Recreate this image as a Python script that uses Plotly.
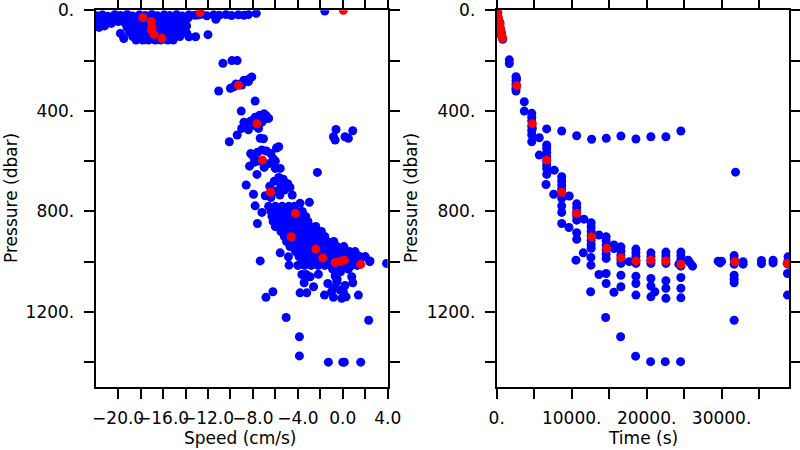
import plotly.graph_objects as go
from plotly.subplots import make_subplots

# ---------------- Left panel: Speed vs Pressure ----------------
speed_blue = [
    # top strip
    -21.9, -21.4, -20.9, -20.3, -19.8, -19.2, -18.7, -18.1, -17.6, -17.0, -16.5, -15.9, -15.4,
    -14.8, -14.3, -13.7, -13.2, -12.6, -12.1, -11.5, -11.0, -10.4, -9.9, -9.3, -8.8, -8.4,
    -7.7, -1.6, -12.9, -11.3, -12.0, -13.1, -13.7, -19.5,
    # left part of blob
    -21.8, -21.3, -21.8, -21.2, -20.7, -20.2, -20.6, -21.7, -20.0, -19.6, -19.8,
    # blob core
    -19.3, -18.8, -18.3, -17.7, -17.2, -16.6, -16.1, -15.6, -15.0, -14.5, -14.0, -13.8,
    -19.4, -18.9, -18.4, -17.8, -17.3, -16.8, -16.2, -15.7, -15.2, -14.6, -14.1,
    -19.2, -18.6, -18.1, -17.5, -17.0, -16.5, -15.9, -15.4, -14.9, -14.3, -13.9,
    -19.0, -18.5, -17.9, -17.4, -16.9, -16.3, -15.8, -15.3, -14.7, -14.2, -13.9,
    -18.7, -18.2, -17.6, -17.1, -16.6, -16.0, -15.5, -15.0, -14.5,
    -18.4, -17.8, -17.3, -16.7, -16.2, -15.6, -15.1,
    # 200-650 dbar
    -10.67, -9.87, -9.4,
    -10.0, -9.7, -9.3, -8.9, -8.6, -8.3, -8.1, -9.5, -8.8, -9.0, -8.4,
    -11.05, -7.8, -9.04,
    -9.0, -8.6, -8.2, -7.8, -7.4, -7.0, -6.6, -7.2, -7.8, -8.4, -7.0, -8.8, -6.8, -7.5,
    -9.4, -10.1, -7.35, -7.06, -5.7,
    -8.3, -8.0, -7.6, -7.2, -6.8, -6.4, -5.9, -6.2, -6.6, -7.0, -7.5, -7.9, -8.2, -6.0,
    -7.64, -6.0, -5.57, -2.26, -8.6, -7.95, -7.8, -7.2, -7.6,
    -6.9, -6.5, -6.1, -5.7, -5.3, -4.9, -5.2, -5.6, -6.0, -4.7, -6.4, -4.5, -5.5,
    -3.8, -2.97,
    -0.6, -0.83, -0.68, 0.2, 0.89, 0.5,
    # dense band 780-1015 dbar
    -6.6, -6.0, -5.4, -4.8, -4.3,
    -6.4, -5.9, -5.3, -4.7, -4.1, -3.6,
    -6.3, -5.7, -5.1, -4.5, -3.9, -3.3,
    -6.2, -5.6, -5.0, -4.4, -3.8, -3.1,
    -6.0, -5.4, -4.8, -4.2, -3.6, -2.9, -2.4,
    -5.5, -4.9, -4.3, -3.7, -3.1, -2.5, -1.9,
    -5.2, -4.6, -4.0, -3.4, -2.8, -2.2, -1.6,
    -5.0, -4.4, -3.8, -3.2, -2.6, -2.0, -1.4, -0.8,
    -4.7, -4.1, -3.5, -2.9, -2.3, -1.7, -1.1, -0.5, 0.1,
    -4.2, -3.6, -3.0, -2.4, -1.8, -1.2, -0.6, 0.0, 0.6, 1.1,
    -3.9, -3.3, -2.7, -2.1, -1.5, -0.9, -0.3, 0.3, 0.9, 1.5, 2.0,
    -3.6, -3.0, -2.4, -1.8, -1.2, -0.6, 0.0, 0.6, 1.2, 2.4,
    -4.0, -3.4, -2.8, -2.2, -1.6, -1.0, -0.4, 0.2, 0.8, 1.3,
    -5.57, -4.84, -7.35, -4.78, 2.42, 1.69, 3.9,
    # below the band
    -3.64, -3.26, -2.9, -2.17, -3.44, -2.6, -3.8, -3.2, -1.63, -1.33, -0.68, -0.53,
    -0.83, -0.24, 0.05, -0.83, -0.09, 0.8, 0.89, 1.39, -6.22, -6.84, -5.04, 2.31,
    -3.86, -3.86, -1.28, 0.0, 0.14, 1.6,
    -0.9, -0.2, 0.5, -0.5, 0.2, -1.0, 0.3,
]
pres_blue = [
    22, 18, 24, 17, 21, 16, 23, 18, 21, 16, 22, 18, 21,
    17, 23, 18, 20, 16, 22, 18, 20, 17, 21, 18, 20, 17,
    12, 3, 19, 36, 97, 105, 105, 112,
    35, 45, 55, 62, 40, 35, 52, 68, 45, 30, 92,
    32, 32, 32, 32, 32, 32, 32, 32, 32, 32, 32, 32,
    50, 50, 50, 50, 50, 50, 50, 50, 50, 50, 50,
    68, 68, 68, 68, 68, 68, 68, 68, 68, 68, 62,
    86, 86, 86, 86, 86, 86, 86, 86, 86, 86, 90,
    104, 104, 104, 104, 104, 104, 104, 104, 104,
    118, 118, 118, 118, 118, 118, 118,
    211, 200, 200,
    310, 304, 296, 288, 281, 272, 265, 293, 278, 297, 284,
    321, 361, 401,
    470, 455, 440, 425, 418, 412, 430, 445, 460, 475, 435, 445, 420, 470,
    496, 523, 509, 511, 543,
    620, 580, 565, 556, 560, 570, 548, 590, 610, 625, 600, 605, 570, 600,
    653, 629, 629, 645, 695, 732, 778, 804, 848,
    738, 700, 680, 665, 672, 690, 715, 735, 720, 705, 745, 735, 700,
    768, 764,
    474, 503, 516, 503, 479, 509,
    780, 780, 780, 780, 780,
    800, 800, 800, 800, 800, 800,
    820, 820, 820, 820, 820, 820,
    840, 840, 840, 840, 840, 840,
    860, 860, 860, 860, 860, 860, 860,
    880, 880, 880, 880, 880, 880, 880,
    900, 900, 900, 900, 900, 900, 900,
    920, 920, 920, 920, 920, 920, 920, 920,
    940, 940, 940, 940, 940, 940, 940, 940, 940,
    960, 960, 960, 960, 960, 960, 960, 960, 960, 960,
    980, 980, 980, 980, 980, 980, 980, 980, 980, 980, 980,
    1000, 1000, 1000, 1000, 1000, 1000, 1000, 1000, 1000, 1000,
    1015, 1015, 1015, 1015, 1015, 1015, 1015, 1015, 1015, 1015,
    965, 981, 997, 1014, 997, 983, 1007,
    1051, 1051, 1060, 1050, 1084, 1100, 1124, 1124, 1133, 1087, 1057, 1080,
    1106, 1113, 1120, 1142, 1146, 1060, 1084, 1133, 1120, 1142, 1222, 1233,
    1299, 1375, 1400, 1400, 1400, 1400,
    1030, 1040, 1030, 1070, 1095, 1120, 1140,
]
speed_red = [-17.8, -17.04, -16.98, -17.04, -16.8, -16.1, -12.7, 0.05, -9.28, -7.64, -7.15,
             -6.44, -4.21, -4.6, -2.4, -1.78, -0.68, -0.24, 0.14, 1.6]
pres_red = [29, 45, 65, 78, 96, 111, 8, 0, 298, 451, 596,
            724, 808, 901, 950, 985, 1003, 998, 994, 1011]

# ---------------- Right panel: Time vs Pressure ----------------
time_blue = [
    0, 100, 200, 300, 400, 500, 600, 700, 800, 150, 450, 650,
    1680, 1680,
    2570, 2570, 2570, 2570, 2570, 2650,
    3680, 3680,
    4670, 4670, 4670, 4670, 4670, 4670, 4670, 4750,
    5680, 5680,
    6670, 8670, 10670, 12660, 14620, 16570, 18570, 20570, 22570, 24570,
    31860,
    6670, 6670, 6670, 6670, 6670, 6670, 6670, 6670, 6580,
    7680, 7600,
    8670, 8670, 8670, 8670, 8670, 8670, 8670, 8670, 8670,
    9680, 9640,
    10670, 10670, 10670, 10670, 10670, 10670, 10670,
    11640,
    12600, 12600, 12600, 12600, 12600, 12600, 12600, 12570, 12570, 12530,
    11550, 10570,
    13640, 13640,
    14600, 14600, 14600, 14600, 14600, 14600, 14600, 14600, 14530,
    15640, 15640, 15640,
    16570, 16570, 16570, 16570, 16570, 16570, 16570, 16530,
    17680,
    18570, 18570, 18570, 18570, 18570, 18570, 18570, 18570, 18530,
    20570, 20570, 20570, 20570, 20570, 20570, 21100, 20570, 20530,
    22570, 22570, 22570, 22570, 22570, 22570, 22570, 22480,
    24570, 24570, 24570, 24570, 24570, 24300, 24570, 24570, 24570, 24530,
    25540, 26130, 25800,
    29540, 30000, 29800,
    31680, 31680, 31680, 31680, 31680, 31680, 31680,
    32870, 32870, 35320, 35320, 36870, 36870, 38870, 38870, 38870, 38790, 38790,
]
pres_t_blue = [
    0, 15, 30, 45, 60, 75, 90, 105, 115, 10, 50, 100,
    197, 212,
    264, 280, 295, 310, 321, 272,
    364, 401,
    410, 425, 440, 460, 478, 495, 523, 470,
    507, 576,
    472, 480, 499, 513, 509, 500, 512, 503, 503, 480,
    644,
    536, 550, 566, 582, 600, 615, 629, 653, 693,
    636, 732,
    662, 678, 695, 712, 730, 748, 778, 804, 848,
    739, 864,
    770, 785, 800, 818, 835, 885, 911,
    831,
    845, 862, 880, 898, 915, 932, 947, 983, 1014, 1120,
    965, 994,
    894, 1051,
    901, 918, 935, 952, 970, 987, 1047, 1087, 1222,
    934, 948, 1122,
    941, 958, 975, 992, 1007, 1054, 1100, 1299,
    1000,
    950, 965, 980, 995, 1007, 1058, 1087, 1133, 1376,
    965, 980, 995, 1007, 1067, 1097, 1120, 1140, 1398,
    962, 977, 992, 1007, 1076, 1106, 1146, 1398,
    962, 977, 992, 1007, 1018, 1010, 1063, 1106, 1144, 1398,
    994, 1018, 1005,
    998, 998, 1005,
    976, 990, 1010, 1054, 1070, 1084, 1233,
    1000, 1010, 995, 1008, 994, 1005, 981, 995, 1010, 1047, 1133,
]
time_red = [0, 60, 130, 190, 250, 320, 380, 440, 500, 570, 630, 690, 750,
            2670, 4750, 6670, 8670, 10670, 12660, 14660, 16570, 18570, 20570,
            22570, 24570, 31770, 38740]
pres_t_red = [2, 10, 19, 28, 37, 46, 55, 65, 74, 83, 92, 102, 111,
              300, 451, 596, 724, 808, 901, 947, 985, 997, 994,
              997, 1011, 1000, 1007]

# ---------------- tick definitions ----------------
p_tickvals = [0, 200, 400, 600, 800, 1000, 1200, 1400]
p_ticktext = ["0.", "", "400.", "", "800.", "", "1200.", ""]
s_tickvals = [-20, -18, -16, -14, -12, -10, -8, -6, -4, -2, 0, 2, 4]
s_ticktext = ["\u221220.0", "", "\u221216.0", "", "\u221212.0", "", "\u22128.0", "",
              "\u22124.0", "", "0.0", "", "4.0"]
t_tickvals = [0, 5000, 10000, 15000, 20000, 25000, 30000, 35000]
t_ticktext = ["0.", "", "10000.", "", "20000.", "", "30000.", ""]

BLUE = "#0000ff"
RED = "#ff0000"
MS = 9
FONT = "DejaVu Sans"

fig = make_subplots(rows=1, cols=2)
fig.add_trace(go.Scatter(x=speed_blue, y=pres_blue, mode="markers",
                         marker=dict(color=BLUE, size=MS), showlegend=False), 1, 1)
fig.add_trace(go.Scatter(x=speed_red, y=pres_red, mode="markers",
                         marker=dict(color=RED, size=MS), showlegend=False), 1, 1)
fig.add_trace(go.Scatter(x=time_blue, y=pres_t_blue, mode="markers",
                         marker=dict(color=BLUE, size=MS), showlegend=False), 1, 2)
fig.add_trace(go.Scatter(x=time_red, y=pres_t_red, mode="markers",
                         marker=dict(color=RED, size=MS), showlegend=False), 1, 2)

axis_common = dict(showline=True, linecolor="black", linewidth=2, mirror="ticks",
                   ticks="outside", ticklen=10, tickwidth=1.5, tickcolor="black",
                   showgrid=False, zeroline=False, automargin=False, tickangle=0,
                   tickfont=dict(family=FONT, size=17, color="black"))

fig.update_xaxes(range=[-22, 4], tickmode="array", tickvals=s_tickvals, ticktext=s_ticktext,
                 domain=[0.1196, 0.4846], ticklabelstandoff=4, **axis_common, row=1, col=1)
fig.update_xaxes(range=[0, 39000], tickmode="array", tickvals=t_tickvals, ticktext=t_ticktext,
                 domain=[0.6209, 0.9863], ticklabelstandoff=4, **axis_common, row=1, col=2)
for c in (1, 2):
    fig.update_yaxes(range=[1500, 0], tickmode="array", tickvals=p_tickvals, ticktext=p_ticktext,
                     domain=[0.1393, 0.9771], ticklabelstandoff=6, **axis_common, row=1, col=c)

ann_font = dict(family=FONT, size=17, color="black")
fig.update_layout(
    width=800, height=450,
    margin=dict(l=0, r=0, t=0, b=0),
    paper_bgcolor="white", plot_bgcolor="white",
    showlegend=False,
    annotations=[
        dict(text="Speed (cm/s)", x=0.30, y=1 - 438 / 450, xref="paper", yref="paper",
             showarrow=False, font=ann_font, xanchor="center", yanchor="middle"),
        dict(text="Time (s)", x=643 / 800, y=1 - 438 / 450, xref="paper", yref="paper",
             showarrow=False, font=ann_font, xanchor="center", yanchor="middle"),
        dict(text="Pressure (dbar)", x=11 / 800, y=1 - 198 / 450, xref="paper", yref="paper",
             showarrow=False, font=ann_font, textangle=-90, xanchor="center", yanchor="middle"),
        dict(text="Pressure (dbar)", x=411 / 800, y=1 - 198 / 450, xref="paper", yref="paper",
             showarrow=False, font=ann_font, textangle=-90, xanchor="center", yanchor="middle"),
    ],
)

fig.write_html("out.html", config={"displayModeBar": False},
               post_script="document.body.style.margin='0px';document.body.style.padding='0px';")
